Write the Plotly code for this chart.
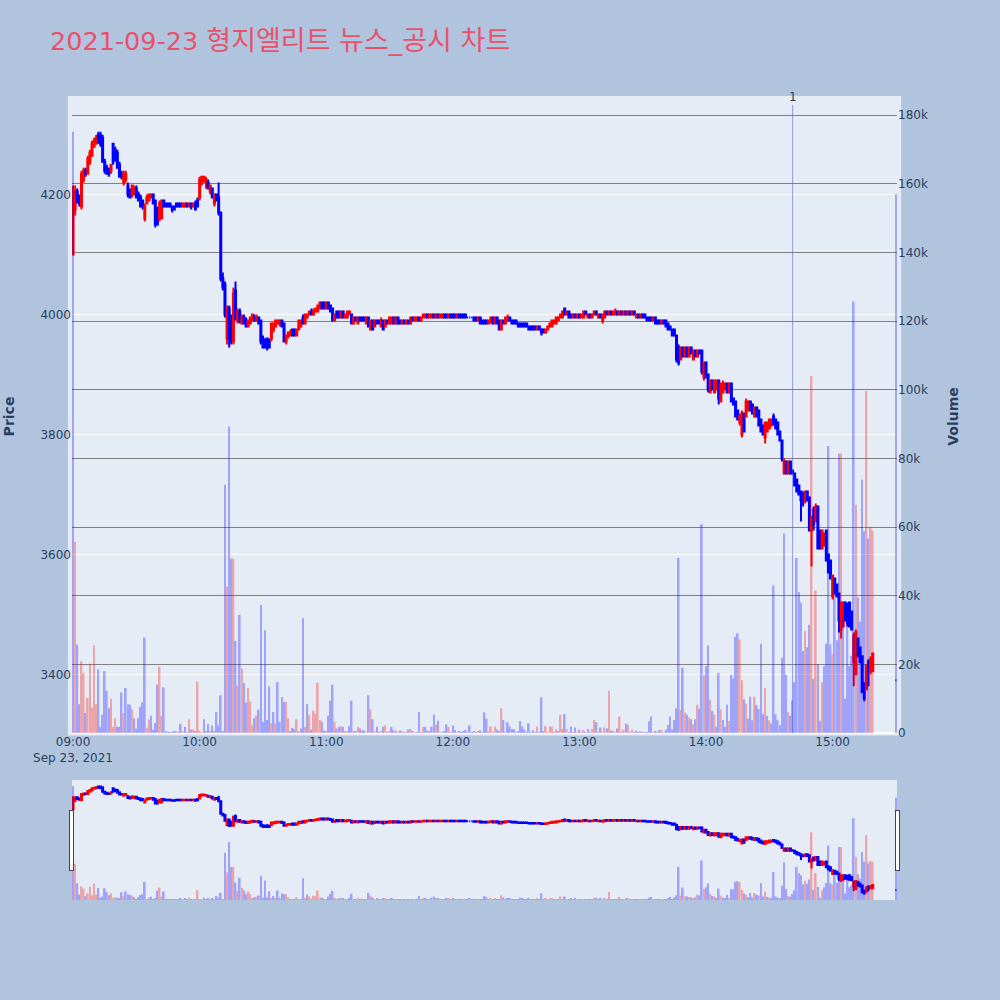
import pandas as pd
import plotly.graph_objects as go
from plotly.subplots import make_subplots

title_date = "2021-09-23"
title_name = "형지엘리트 뉴스_공시 차트"
trade_date = "2021-09-23"
session_start = "09:00"
n_minutes = 380
closing_auction = "15:30"
event_times = ["14:41"]
event_labels = ["1"]

opens = [
    4100,4175,4205,4195,4180,4225,4240,4235,4255,4265,
    4280,4285,4300,4300,4295,4255,4245,4240,4240,4285,
    4275,4270,4250,4235,4220,4225,4215,4205,4200,4200,
    4210,4200,4195,4190,4160,4185,4190,4195,4200,4190,
    4175,4160,4160,4190,4185,4185,4185,4180,4180,4185,
    4185,4185,4180,4180,4185,4180,4185,4180,4185,4190,
    4195,4220,4225,4220,4220,4205,4210,4185,4200,4195,
    4170,4060,4050,3960,4010,3990,3955,4040,3990,4005,
    3985,3995,3990,3980,3985,3990,3995,3990,3995,3990,
    3960,3955,3960,3955,3960,3975,3980,3985,3985,3990,
    3985,3955,3965,3965,3975,3975,3965,3975,3980,3995,
    3985,3995,4000,4005,4000,4005,4005,4010,4020,4020,
    4010,4020,4015,4010,3990,4005,4005,3995,4005,3995,
    3995,4000,4000,3985,3995,3985,3995,3995,3995,3985,
    3995,3975,3990,3980,3990,3990,3980,3990,3980,3990,
    3985,3985,3995,3985,3995,3990,3985,3990,3985,3990,
    3985,3995,3990,3990,3995,3990,3995,3995,4000,3995,
    3995,4000,3995,4000,3995,3995,4000,4000,3995,4000,
    4000,4000,3995,4000,4000,4000,4000,3995,3995,3995,
    3995,3995,3990,3995,3990,3990,3990,3985,3990,3995,
    3985,3995,3990,3975,3990,3985,3990,3995,3990,3990,
    3990,3985,3985,3985,3985,3985,3980,3980,3980,3980,
    3975,3980,3975,3975,3970,3975,3980,3980,3985,3985,
    3990,3995,3995,4010,4000,4005,4000,3995,4000,3995,
    4000,3995,3995,4005,3995,4000,3995,4000,4005,3995,
    4000,3990,3995,4005,4000,4005,4000,4000,4005,4000,
    4005,4000,4005,4000,4005,4000,4005,3995,4000,3995,
    4000,4000,3995,3995,3995,3990,3995,3990,3990,3985,
    3990,3990,3985,3980,3975,3975,3965,3945,3925,3945,
    3930,3945,3930,3945,3925,3940,3930,3940,3940,3895,
    3920,3900,3870,3890,3870,3875,3890,3855,3870,3875,
    3885,3870,3885,3860,3855,3840,3820,3800,3835,3830,
    3840,3855,3850,3830,3845,3840,3825,3815,3795,3805,
    3810,3815,3830,3825,3820,3805,3790,3735,3755,3735,
    3755,3740,3735,3725,3715,3705,3685,3690,3705,3695,
    3640,3675,3655,3680,3640,3610,3615,3640,3600,3590,
    3530,3560,3550,3535,3475,3480,3520,3515,3520,3505,
    3420,3400,3460,3445,3430,3385,3375,3420,3405,3405,
    3390,
]

highs = [
    4215,4215,4210,4200,4240,4245,4245,4265,4275,4290,
    4295,4300,4305,4305,4300,4260,4250,4245,4250,4285,
    4280,4275,4255,4240,4240,4240,4220,4210,4215,4215,
    4215,4205,4200,4190,4185,4200,4200,4200,4200,4190,
    4180,4190,4190,4190,4185,4185,4185,4180,4180,4185,
    4185,4185,4185,4185,4185,4185,4185,4185,4190,4195,
    4230,4230,4230,4230,4225,4215,4210,4200,4200,4220,
    4170,4070,4055,4015,4015,4000,4045,4055,4010,4010,
    4000,4000,3995,3990,3995,4000,4000,4000,3995,3990,
    3965,3960,3960,3960,3985,3985,3990,3990,3990,3990,
    3985,3965,3970,3975,3975,3975,3975,3990,3990,4000,
    4000,4000,4005,4010,4010,4010,4015,4020,4020,4020,
    4020,4020,4015,4010,4000,4005,4005,4005,4005,4000,
    4005,4005,4000,3995,3995,3995,3995,3995,3995,3995,
    3995,3990,3990,3990,3990,3990,3995,3990,3990,3990,
    3995,3995,3995,3995,3995,3990,3990,3990,3990,3990,
    3995,3995,3995,3995,3995,3995,4000,4000,4000,4000,
    4000,4000,4000,4000,4000,4000,4000,4000,4000,4000,
    4000,4000,4000,4000,4000,4000,4000,3995,3995,3995,
    3995,3995,3995,3995,3990,3990,3990,3990,3995,3995,
    3995,3995,3990,3990,3990,3995,4000,3995,3990,3990,
    3990,3985,3985,3985,3985,3985,3980,3980,3980,3980,
    3980,3980,3975,3975,3975,3980,3985,3990,3990,3995,
    3995,4000,4005,4010,4005,4005,4000,4000,4000,4000,
    4000,4000,4005,4005,4000,4000,4000,4005,4005,4000,
    4000,4000,4005,4005,4005,4005,4005,4010,4005,4005,
    4005,4005,4005,4005,4005,4005,4005,4000,4000,4000,
    4000,4000,3995,3995,3995,3995,3995,3990,3990,3990,
    3990,3990,3985,3980,3975,3975,3965,3950,3945,3945,
    3945,3945,3945,3945,3940,3940,3940,3940,3940,3920,
    3920,3900,3890,3890,3890,3890,3890,3885,3890,3885,
    3885,3885,3885,3860,3855,3840,3835,3840,3835,3860,
    3855,3855,3850,3845,3845,3840,3825,3815,3820,3820,
    3825,3825,3835,3825,3820,3805,3790,3760,3755,3755,
    3755,3740,3735,3725,3715,3705,3705,3705,3705,3695,
    3665,3680,3685,3680,3640,3640,3635,3640,3600,3590,
    3565,3560,3550,3535,3520,3520,3520,3520,3520,3505,
    3470,3475,3460,3445,3430,3385,3415,3425,3430,3435,
    3390,
]

lows = [
    4100,4165,4185,4180,4175,4220,4230,4235,4250,4265,
    4280,4285,4285,4280,4255,4235,4235,4230,4235,4250,
    4255,4245,4230,4225,4215,4220,4195,4195,4195,4200,
    4195,4190,4180,4175,4155,4185,4190,4195,4185,4145,
    4150,4155,4160,4180,4180,4180,4180,4170,4175,4180,
    4180,4180,4180,4180,4180,4180,4175,4180,4175,4180,
    4190,4215,4220,4210,4210,4200,4195,4180,4190,4165,
    4055,4040,3995,3950,3945,3950,3950,3990,3985,3985,
    3985,3985,3980,3980,3985,3990,3990,3990,3985,3950,
    3945,3945,3940,3945,3955,3970,3980,3985,3980,3980,
    3955,3950,3960,3965,3965,3965,3965,3975,3980,3985,
    3985,3995,4000,4000,4000,4005,4005,4010,4010,4010,
    4010,4010,4005,3990,3990,3995,3995,3995,3995,3995,
    3995,4000,3985,3985,3990,3985,3990,3990,3990,3985,
    3980,3975,3975,3980,3985,3985,3980,3975,3980,3985,
    3985,3985,3985,3985,3985,3985,3985,3985,3985,3985,
    3985,3990,3990,3990,3990,3990,3995,3995,3995,3995,
    3995,3995,3995,3995,3995,3995,3995,3995,3995,3995,
    3995,3995,3995,3995,3995,3995,3995,3995,3995,3995,
    3990,3990,3990,3985,3985,3985,3985,3985,3985,3985,
    3985,3985,3975,3975,3985,3985,3990,3990,3985,3985,
    3985,3980,3980,3980,3980,3980,3975,3975,3975,3975,
    3975,3975,3965,3970,3970,3975,3980,3980,3985,3985,
    3990,3995,3995,4000,4000,3995,3995,3995,3995,3995,
    3995,3995,3995,4000,3995,3995,3995,4000,4000,3995,
    3995,3985,3995,4000,4000,4000,4000,4000,4000,4000,
    4000,4000,4000,4000,4000,4000,4000,3995,3995,3995,
    3995,3995,3990,3990,3990,3990,3985,3985,3985,3985,
    3985,3980,3975,3975,3965,3965,3920,3915,3925,3930,
    3930,3930,3930,3935,3925,3930,3930,3935,3900,3890,
    3895,3870,3870,3875,3870,3875,3850,3855,3870,3875,
    3870,3870,3855,3850,3830,3825,3815,3795,3805,3830,
    3840,3840,3835,3830,3830,3815,3805,3800,3785,3805,
    3810,3815,3815,3810,3800,3790,3755,3735,3735,3735,
    3735,3735,3715,3705,3700,3655,3680,3685,3690,3640,
    3580,3640,3655,3610,3610,3610,3615,3590,3570,3560,
    3525,3535,3530,3470,3460,3480,3490,3480,3480,3475,
    3380,3400,3430,3420,3370,3355,3375,3380,3400,3405,
    3390,
]

closes = [
    4195,4205,4190,4185,4235,4240,4235,4260,4270,4285,
    4290,4295,4290,4285,4255,4240,4235,4235,4250,4255,
    4260,4245,4230,4230,4235,4235,4200,4195,4215,4210,
    4195,4190,4180,4180,4180,4195,4200,4200,4185,4150,
    4150,4185,4190,4180,4180,4180,4180,4175,4175,4180,
    4180,4180,4185,4185,4180,4185,4180,4185,4175,4180,
    4225,4230,4230,4225,4210,4215,4195,4200,4190,4170,
    4060,4045,4000,4010,3960,3955,4035,3995,4005,3990,
    3995,3985,3980,3990,3995,4000,3990,3995,3985,3955,
    3945,3945,3945,3945,3985,3985,3990,3990,3990,3980,
    3955,3965,3970,3970,3965,3965,3975,3990,3990,3985,
    4000,4000,4005,4000,4005,4010,4015,4020,4010,4010,
    4020,4010,4005,3990,4000,3995,3995,4005,3995,4000,
    4005,4005,3985,3995,3990,3995,3990,3990,3990,3995,
    3980,3990,3975,3990,3985,3985,3990,3975,3990,3985,
    3995,3995,3985,3995,3985,3985,3990,3985,3990,3985,
    3995,3990,3995,3995,3990,3995,4000,4000,3995,4000,
    4000,3995,4000,3995,4000,4000,3995,3995,4000,3995,
    3995,3995,4000,3995,3995,3995,3995,3995,3995,3995,
    3990,3990,3995,3985,3985,3985,3985,3990,3995,3985,
    3995,3985,3975,3990,3985,3995,3995,3990,3985,3985,
    3985,3980,3980,3980,3980,3980,3975,3975,3975,3975,
    3980,3975,3970,3970,3975,3980,3985,3990,3990,3995,
    3995,4000,4005,4000,4005,3995,3995,4000,3995,4000,
    3995,4000,4005,4000,4000,3995,4000,4005,4000,4000,
    3995,4000,4005,4000,4005,4000,4005,4005,4000,4005,
    4000,4005,4000,4005,4000,4005,4000,4000,3995,4000,
    3995,3995,3990,3990,3990,3995,3985,3985,3985,3990,
    3985,3980,3975,3975,3965,3965,3925,3920,3945,3930,
    3945,3930,3945,3935,3940,3930,3940,3935,3905,3920,
    3895,3875,3890,3875,3890,3890,3860,3885,3885,3885,
    3870,3885,3855,3850,3830,3825,3830,3835,3805,3855,
    3855,3840,3835,3845,3830,3815,3805,3800,3820,3820,
    3825,3825,3820,3810,3800,3790,3760,3755,3735,3755,
    3735,3735,3715,3705,3700,3690,3685,3705,3690,3640,
    3660,3650,3680,3610,3610,3640,3635,3590,3570,3560,
    3565,3535,3530,3490,3520,3520,3490,3485,3480,3475,
    3465,3470,3430,3420,3370,3360,3415,3405,3425,3435,
    3390,
]

volumes = [
    175200,55700,25800,8400,20900,17500,5800,10200,20200,7400,
    25500,8400,18500,1800,5300,18000,12300,7200,10000,1800,
    4300,1800,1800,11800,5800,13100,8400,8200,7000,4300,
    1300,4300,7600,8900,27800,1500,4000,5000,900,2900,
    14100,19300,5000,13300,300,200,100,150,500,400,
    200,2700,300,1800,200,4000,1000,1000,300,15000,
    700,200,4000,300,2600,600,2200,500,6100,2200,
    11000,600,72300,42700,89300,50800,50800,26800,13800,34400,
    18800,14600,8900,13100,9200,2200,4300,5100,6800,37300,
    3300,29900,3800,13600,2900,6100,2700,14800,3300,10400,
    9000,9100,4300,300,1500,1100,4000,500,1300,33400,
    1800,8400,5300,1000,6500,5600,14600,3800,3300,700,
    300,5100,9400,14100,3300,1300,1800,2000,1800,300,
    600,2000,9400,400,500,1800,1300,700,800,200,
    11000,6800,4000,500,1800,200,500,1800,2200,200,
    500,1800,800,700,200,700,300,100,100,1000,
    1200,500,100,100,6100,200,1800,1800,700,600,
    1800,5400,2500,3600,200,100,600,2500,1800,200,
    2200,900,100,700,100,500,900,100,2200,100,
    300,100,700,800,200,6000,4200,300,1900,200,
    1900,1000,300,7200,3800,200,3100,1900,1200,1100,
    200,300,3500,1900,1000,200,2800,200,800,200,
    1900,200,10400,300,2000,200,1900,1900,200,1100,
    300,5300,1200,5500,1200,200,1900,200,1600,200,
    1000,200,900,200,1200,200,1200,3800,3200,200,
    1600,200,1600,1300,12300,700,700,200,1300,4800,
    200,1000,2800,2400,200,1000,200,700,200,400,
    200,200,200,3400,4800,200,500,200,900,900,
    200,1000,2300,4800,1000,3800,7200,51000,6700,19000,
    5900,5300,4500,4000,2500,4000,8200,7000,60800,16800,
    19500,25500,9700,6400,5400,1800,17500,6800,3800,1800,
    8200,3500,17000,15900,28000,29000,27300,15400,9800,8500,
    4200,10600,3700,10600,8100,7000,26000,5500,13100,5000,
    3700,2800,43000,5500,3700,2300,21900,58100,17000,6000,
    5000,9500,14800,51000,41000,38000,23900,29700,25000,31500,
    104000,15700,41500,20000,3500,14800,19500,26000,83600,25800,
    23000,39500,27000,81400,81400,33000,10000,31700,19500,22500,
    125700,66500,39500,32500,73800,58800,99700,56700,60000,59000,
    157000,
]

# timestamps: one per minute of the continuous session, then the closing auction
times = list(pd.date_range(f"{trade_date} {session_start}", periods=n_minutes, freq="min"))
times.append(pd.Timestamp(f"{trade_date} {closing_auction}"))

vol_colors = ["blue"] + [
    "red" if closes[i] > closes[i - 1] else "blue" for i in range(1, len(closes))
]

BASE_FONT = "DejaVu Sans, Verdana, Noto Sans CJK KR, sans-serif"

fig = make_subplots(specs=[[{"secondary_y": True}]])

fig.add_trace(
    go.Candlestick(
        x=times, open=opens, high=highs, low=lows, close=closes,
        increasing=dict(line=dict(color="red"), fillcolor="red"),
        decreasing=dict(line=dict(color="blue"), fillcolor="blue"),
        showlegend=False, name="price",
    ),
    secondary_y=False,
)

fig.add_trace(
    go.Bar(
        x=times, y=volumes, marker=dict(color=vol_colors, line=dict(width=0)),
        opacity=0.3, showlegend=False, name="volume",
    ),
    secondary_y=True,
)

# event marker(s)
for et, lab in zip(event_times, event_labels):
    ts = pd.Timestamp(f"{trade_date} {et}")
    fig.add_shape(type="line", xref="x", yref="paper", x0=ts, x1=ts, y0=0, y1=0.992,
                  line=dict(color="rgba(60,80,235,0.5)", width=1), layer="above")
    fig.add_annotation(x=ts, y=1.0, xref="x", yref="paper", text=lab, showarrow=False,
                       yanchor="middle", yshift=3, font=dict(size=12, color="#2a3f5f"))

# slightly enlarged plot background
fig.add_shape(type="rect", xref="paper", yref="paper",
              x0=-0.005, x1=1.005, y0=-0.004, y1=1.0065,
              fillcolor="#E5ECF6", line=dict(width=0), layer="below")

title_html = f'{title_date} <span style="font-size:27px">{title_name}</span>'

fig.update_layout(
    width=1000, height=1000,
    paper_bgcolor="#B0C4DE",
    plot_bgcolor="#E5ECF6",
    font=dict(family=BASE_FONT, size=12, color="#2a3f5f"),
    margin=dict(l=72, r=103, t=100, b=100),
    title=dict(text=title_html, x=0.05, xanchor="left", y=0.959, yanchor="middle",
               font=dict(size=25.5, color="#E9516A", family=BASE_FONT)),
    showlegend=False,
    bargap=0.2,
)
fig.update_xaxes(domain=[0, 1], rangeslider=dict(visible=True, thickness=0.15, bgcolor="#E5ECF6"),
                 showgrid=False, automargin=False)
fig.update_yaxes(title=dict(text="<b>Price</b>", standoff=22, font=dict(size=14)),
                 secondary_y=False, showgrid=True, gridcolor="white", automargin=False)
fig.update_yaxes(title=dict(text="<b>Volume</b>", standoff=21, font=dict(size=14)),
                 secondary_y=True, showgrid=True, gridcolor="grey", gridwidth=1,
                 automargin=False)

fig.write_html("out.html", config={"displayModeBar": False},
               post_script="document.body.style.margin='0';")
